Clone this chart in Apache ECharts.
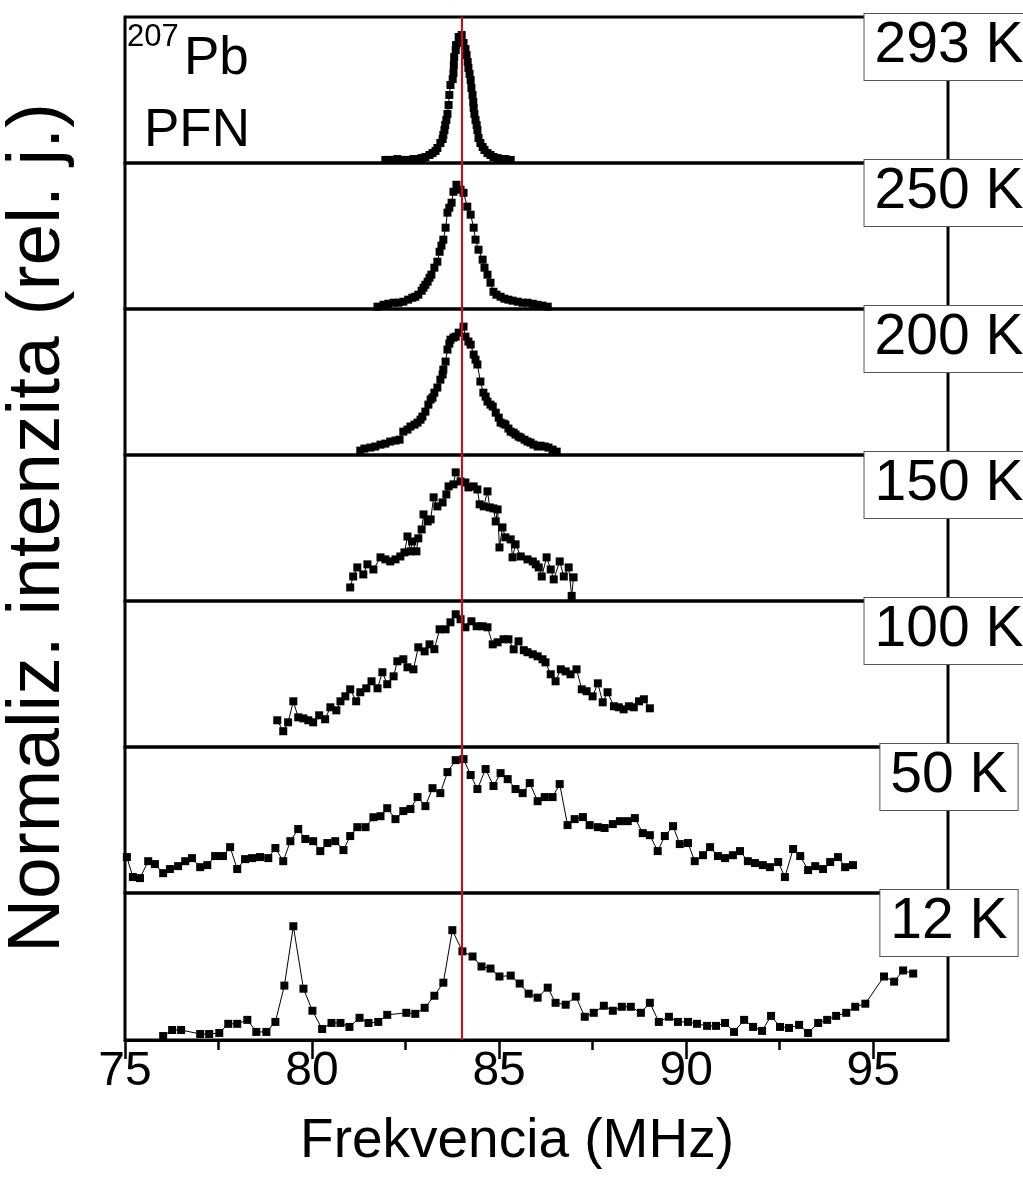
<!DOCTYPE html>
<html><head><meta charset="utf-8">
<script src="https://cdn.jsdelivr.net/npm/echarts@6/dist/echarts.min.js"></script>
<style>html,body{margin:0;padding:0;background:#fff}#c{width:1023px;height:1189px}</style>
</head><body><div id="c"></div>
<script>
// ---- data (x: frequency MHz, y: normalized intensity, 0..100 of panel height) ----
const panelLabels = ['293 K','250 K','200 K','150 K','100 K','50 K','12 K'];
const refFreq = 84.0;
const xMajorTicks = [75, 80, 85, 90, 95];
const xMinorTicks = [77.5, 82.5, 87.5, 92.5];

const s293K = [[81.96,2.1],[82.07,2.1],[82.18,2.1],[82.28,2.7],[82.39,2.1],[82.50,2.1],[82.60,2.1],[82.71,2.7],[82.82,2.7],[82.93,3.4],[83.03,4.1],[83.14,5.5],[83.22,6.8],[83.30,8.2],[83.35,10.3],[83.43,13.7],[83.49,16.4],[83.51,19.2],[83.54,22.6],[83.56,26.0],[83.59,29.5],[83.62,33.6],[83.65,39.7],[83.67,46.6],[83.70,53.4],[83.76,57.5],[83.78,61.6],[83.79,67.1],[83.80,72.6],[83.84,77.4],[83.85,80.8],[83.92,86.3],[84.00,87.7],[84.05,82.2],[84.10,78.1],[84.13,74.0],[84.16,69.2],[84.18,65.1],[84.21,61.0],[84.24,56.8],[84.26,51.4],[84.29,46.6],[84.31,41.8],[84.32,37.7],[84.34,33.6],[84.37,29.5],[84.40,26.0],[84.42,22.6],[84.45,17.1],[84.50,13.7],[84.56,11.0],[84.61,8.9],[84.69,6.8],[84.77,5.5],[84.85,4.1],[84.96,3.4],[85.07,2.7],[85.17,2.7],[85.31,2.1]];

const s250K = [[81.75,1.6],[81.91,2.9],[82.04,3.6],[82.18,4.3],[82.31,4.3],[82.44,5.0],[82.57,6.4],[82.68,7.7],[82.76,8.4],[82.84,9.8],[82.93,12.5],[82.98,14.6],[83.03,16.6],[83.09,18.7],[83.14,21.4],[83.19,23.5],[83.27,28.3],[83.35,32.4],[83.41,39.2],[83.46,43.4],[83.51,47.5],[83.57,55.7],[83.62,66.0],[83.67,69.4],[83.73,72.8],[83.78,80.3],[83.86,85.1],[83.97,81.7],[84.05,79.6],[84.15,70.1],[84.24,64.6],[84.32,55.7],[84.37,47.5],[84.45,40.6],[84.56,33.8],[84.61,28.3],[84.69,23.5],[84.77,18.0],[84.85,11.8],[84.93,9.8],[85.04,8.4],[85.14,7.1],[85.25,6.4],[85.36,5.7],[85.50,5.0],[85.63,4.3],[85.76,4.3],[85.90,3.6],[86.03,2.9],[86.16,2.3],[86.30,1.6]];

const s200K = [[81.29,3.0],[81.40,4.4],[81.56,5.1],[81.69,5.8],[81.83,7.1],[81.96,7.8],[82.09,9.2],[82.23,9.9],[82.34,10.5],[82.44,16.0],[82.55,17.4],[82.63,19.5],[82.74,20.8],[82.82,22.2],[82.90,24.2],[82.95,26.3],[83.03,29.7],[83.11,34.5],[83.17,38.0],[83.22,39.3],[83.27,42.7],[83.35,46.2],[83.43,51.6],[83.49,55.1],[83.51,58.5],[83.57,64.0],[83.62,72.2],[83.67,76.3],[83.70,79.0],[83.78,80.4],[83.84,81.1],[83.92,83.8],[84.05,87.9],[84.10,81.1],[84.18,77.7],[84.24,75.6],[84.32,68.8],[84.37,65.3],[84.42,62.0],[84.50,50.3],[84.58,42.7],[84.64,40.0],[84.69,36.6],[84.77,34.5],[84.83,33.2],[84.91,29.0],[84.99,25.6],[85.04,22.2],[85.12,21.5],[85.17,20.8],[85.25,18.1],[85.31,16.0],[85.39,15.3],[85.44,14.0],[85.52,12.6],[85.58,11.9],[85.68,10.5],[85.76,9.2],[85.84,8.5],[85.92,7.1],[86.03,5.8],[86.11,6.4],[86.22,5.8],[86.32,5.1],[86.43,3.7],[86.54,2.3]];

const s150K = [[81.02,9.3],[81.10,16.8],[81.21,23.0],[81.37,18.2],[81.48,25.1],[81.64,21.6],[81.83,29.9],[81.96,28.5],[82.09,27.1],[82.23,28.5],[82.36,30.5],[82.47,33.3],[82.55,44.2],[82.63,34.0],[82.68,40.8],[82.79,34.0],[82.84,42.9],[82.93,49.0],[82.98,59.3],[83.09,54.5],[83.17,55.9],[83.25,71.0],[83.35,64.8],[83.49,67.5],[83.59,73.0],[83.65,78.5],[83.78,79.9],[83.84,88.1],[83.97,81.9],[84.10,81.2],[84.18,77.8],[84.32,78.5],[84.42,76.4],[84.48,66.2],[84.59,64.8],[84.69,75.1],[84.75,64.1],[84.85,63.4],[84.91,54.5],[84.96,62.7],[85.01,36.7],[85.09,50.4],[85.17,43.6],[85.31,42.2],[85.36,29.9],[85.44,38.8],[85.58,30.5],[85.76,28.5],[85.90,27.1],[85.98,25.1],[86.06,23.0],[86.14,16.8],[86.27,29.9],[86.38,21.6],[86.46,14.8],[86.62,27.1],[86.73,16.8],[86.86,23.0],[86.94,3.5],[86.99,16.2]];

const s100K = [[79.07,18.3],[79.23,10.8],[79.36,16.9],[79.50,31.3],[79.63,20.3],[79.77,19.6],[79.90,18.3],[80.03,16.9],[80.19,21.7],[80.35,19.0],[80.49,27.2],[80.65,25.1],[80.76,31.3],[80.89,34.7],[81.02,39.5],[81.18,31.3],[81.29,37.5],[81.45,40.2],[81.59,45.0],[81.75,40.2],[81.88,51.2],[82.01,43.0],[82.18,48.4],[82.28,58.7],[82.44,60.1],[82.55,54.6],[82.71,53.2],[82.84,68.3],[83.01,65.5],[83.14,70.3],[83.27,67.0],[83.41,80.6],[83.57,80.6],[83.70,85.4],[83.84,90.9],[83.97,87.5],[84.10,82.0],[84.26,86.1],[84.40,82.7],[84.56,82.7],[84.69,82.0],[84.83,70.3],[84.96,71.7],[85.12,73.8],[85.25,73.8],[85.39,66.9],[85.52,72.4],[85.66,66.3],[85.76,64.9],[85.90,63.5],[86.03,62.1],[86.16,60.1],[86.24,58.0],[86.38,49.8],[86.51,45.0],[86.65,53.2],[86.78,51.8],[86.91,49.8],[87.07,53.2],[87.21,39.5],[87.34,38.2],[87.50,34.7],[87.64,43.6],[87.77,30.6],[87.90,37.5],[88.07,27.9],[88.20,27.2],[88.33,25.8],[88.47,27.9],[88.60,27.2],[88.74,31.3],[88.87,32.7],[89.03,26.5]];

const s50K = [[75.05,24.6],[75.21,10.9],[75.40,10.2],[75.62,21.8],[75.80,19.8],[76.02,13.6],[76.20,16.4],[76.42,18.4],[76.61,21.8],[76.79,23.9],[77.01,17.7],[77.20,19.1],[77.41,25.3],[77.62,25.3],[77.81,31.4],[78.00,16.4],[78.21,23.2],[78.40,23.9],[78.61,24.6],[78.83,23.9],[79.02,30.8],[79.23,21.8],[79.42,35.5],[79.63,43.8],[79.82,37.0],[80.03,35.5],[80.22,28.7],[80.41,34.2],[80.62,35.5],[80.84,29.4],[81.02,39.0],[81.21,45.1],[81.43,45.1],[81.64,51.9],[81.83,52.6],[82.01,58.1],[82.23,50.6],[82.44,56.1],[82.63,57.5],[82.82,65.7],[83.03,59.5],[83.22,71.8],[83.43,68.4],[83.62,82.8],[83.84,91.0],[84.05,91.7],[84.24,80.8],[84.42,71.2],[84.64,84.9],[84.85,73.3],[85.04,82.1],[85.23,78.0],[85.44,71.2],[85.63,68.4],[85.82,75.3],[86.03,62.9],[86.22,65.7],[86.43,65.7],[86.62,74.6],[86.83,46.5],[87.02,50.6],[87.24,52.0],[87.42,46.5],[87.64,45.1],[87.82,44.5],[88.04,47.2],[88.23,49.2],[88.44,49.2],[88.63,51.3],[88.84,41.0],[89.03,39.6],[89.24,28.7],[89.43,39.0],[89.65,45.8],[89.83,33.5],[90.05,34.2],[90.23,21.8],[90.45,25.9],[90.64,31.4],[90.85,25.3],[91.04,23.9],[91.25,25.9],[91.44,28.7],[91.65,21.8],[91.84,20.5],[92.05,19.1],[92.24,17.7],[92.46,21.2],[92.64,10.9],[92.86,30.1],[93.05,25.3],[93.26,15.7],[93.45,18.4],[93.66,16.4],[93.85,21.2],[94.06,24.6],[94.25,17.7],[94.46,19.1]];

const s12K = [[76.02,2.7],[76.26,6.8],[76.50,6.8],[77.01,4.1],[77.25,4.1],[77.52,4.8],[77.76,11.0],[78.00,11.0],[78.27,13.7],[78.51,5.5],[78.78,5.5],[79.02,12.3],[79.26,37.0],[79.50,77.4],[79.77,34.9],[80.01,19.9],[80.27,7.5],[80.52,11.6],[80.76,11.6],[81.00,8.9],[81.27,15.1],[81.51,11.6],[81.77,12.3],[82.01,17.1],[82.52,18.5],[82.76,17.8],[83.01,21.9],[83.27,30.1],[83.51,39.0],[83.75,74.7],[84.02,60.3],[84.29,56.8],[84.53,50.0],[84.77,48.6],[85.01,43.2],[85.31,43.8],[85.55,38.4],[85.79,31.5],[86.03,28.8],[86.30,35.6],[86.51,25.3],[86.78,24.0],[87.05,29.5],[87.29,15.8],[87.53,18.5],[87.80,23.3],[88.04,19.9],[88.28,22.6],[88.52,22.6],[88.79,18.5],[89.03,25.3],[89.27,12.3],[89.54,15.8],[89.78,12.3],[90.05,12.3],[90.29,11.0],[90.56,9.6],[90.80,9.6],[91.04,11.6],[91.28,5.5],[91.55,13.7],[91.79,8.9],[92.03,6.2],[92.27,16.4],[92.51,8.9],[92.75,8.2],[93.02,10.3],[93.26,4.8],[93.53,11.6],[93.77,13.7],[94.01,16.4],[94.28,18.5],[94.52,22.6],[94.79,24.7],[95.29,43.2],[95.56,39.7],[95.80,47.3],[96.07,45.2]];

const seriesData = [s293K, s250K, s200K, s150K, s100K, s50K, s12K];

// ---- layout ----
const FONT = '"Liberation Sans", Arial, Helvetica, sans-serif';
const PLOT_LEFT = 125, PLOT_RIGHT = 75;
const panelTops = [17, 163, 309, 455, 601, 747, 893];
const panelH = [146, 146, 146, 146, 146, 146, 147];
const N = panelTops.length;
const last = N - 1;

const chart = echarts.init(document.getElementById('c'), null, {renderer: 'canvas'});

const grids = panelTops.map((t, i) => ({
  left: PLOT_LEFT, right: PLOT_RIGHT, top: t, height: panelH[i],
  show: true, borderColor: '#000', borderWidth: 3, backgroundColor: 'transparent'
}));

const xAxes = panelTops.map((t, i) => {
  if (i !== last) return {gridIndex: i, type: 'value', min: 75, max: 97, show: false};
  return {
    gridIndex: i, type: 'value', min: 75, max: 97, interval: 5, position: 'bottom',
    axisLine: {show: true, lineStyle: {color: '#000', width: 3}},
    axisTick: {show: true, inside: false, length: 19, customValues: xMajorTicks, lineStyle: {color: '#000', width: 2.5}},
    axisLabel: {show: true, customValues: xMajorTicks, fontSize: 48, color: '#000', fontFamily: FONT, margin: 8},
    splitLine: {show: false}
  };
});
xAxes.push({
  gridIndex: last, type: 'value', min: 75, max: 97, position: 'bottom',
  axisLine: {show: false},
  axisTick: {show: true, inside: false, length: 10, customValues: xMinorTicks, lineStyle: {color: '#000', width: 2.5}},
  axisLabel: {show: false}, splitLine: {show: false}
});

const yAxes = panelTops.map((t, i) => ({gridIndex: i, type: 'value', min: 0, max: 100, show: false}));

const series = seriesData.map((d, i) => ({
  type: 'line', xAxisIndex: i, yAxisIndex: i, data: d,
  symbol: 'rect', symbolSize: 8, showAllSymbol: true,
  itemStyle: {color: '#000'}, lineStyle: {color: '#000', width: 1},
  animation: false, silent: true,
  markLine: {
    silent: true, symbol: 'none', animation: false,
    label: {show: false},
    lineStyle: {color: '#e3000f', width: 2, type: 'solid'},
    data: [{xAxis: refFreq}]
  }
}));

const graphics = panelLabels.map((t, i) => ({
  type: 'text', x: 949, y: panelTops[i] - 3, z: 100,
  style: {
    text: t, font: '57px ' + FONT, fill: '#000', align: 'center', verticalAlign: 'top',
    backgroundColor: '#fff', borderColor: '#555', borderWidth: 1, padding: [4, 10, 5, 10]
  }
}));
graphics.push(
  {type: 'text', x: 127, y: 22, z: 100, style: {text: '207', font: '31px ' + FONT, fill: '#000', align: 'left', verticalAlign: 'top'}},
  {type: 'text', x: 184, y: 33, z: 100, style: {text: 'Pb', font: '53px ' + FONT, fill: '#000', align: 'left', verticalAlign: 'top'}},
  {type: 'text', x: 144, y: 105, z: 100, style: {text: 'PFN', font: '53px ' + FONT, fill: '#000', align: 'left', verticalAlign: 'top'}},
  {type: 'text', x: 38, y: 528, rotation: Math.PI / 2, z: 100,
   style: {text: 'Normaliz. intenzita (rel. j.)', font: '75px ' + FONT, fill: '#000', align: 'center', verticalAlign: 'middle'}},
  {type: 'text', x: 517, y: 1142, z: 100,
   style: {text: 'Frekvencia (MHz)', font: '55px ' + FONT, fill: '#000', align: 'center', verticalAlign: 'middle'}}
);

chart.setOption({
  backgroundColor: '#fff',
  animation: false,
  grid: grids, xAxis: xAxes, yAxis: yAxes, series: series, graphic: graphics
});
</script></body></html>
